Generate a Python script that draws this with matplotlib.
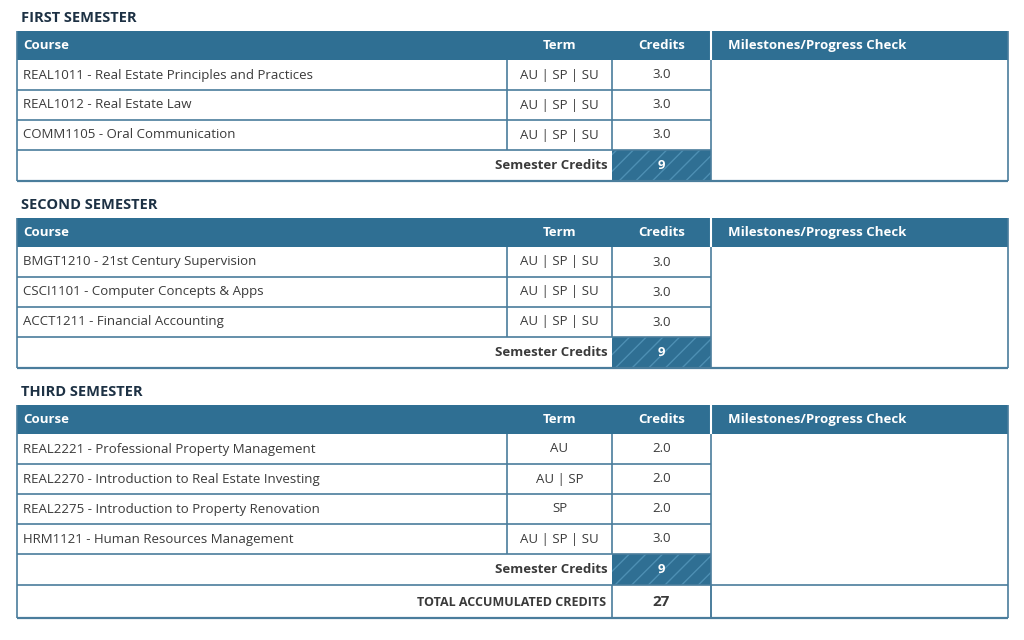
import matplotlib
matplotlib.use("Agg")
import matplotlib.pyplot as plt
from matplotlib.patches import Rectangle

plt.rcParams['font.family'] = ['Open Sans', 'DejaVu Sans']

semesters = ["FIRST SEMESTER", "SECOND SEMESTER", "THIRD SEMESTER"]
courses = [
    ["REAL1011 - Real Estate Principles and Practices", "REAL1012 - Real Estate Law", "COMM1105 - Oral Communication"],
    ["BMGT1210 - 21st Century Supervision", "CSCI1101 - Computer Concepts & Apps", "ACCT1211 - Financial Accounting"],
    ["REAL2221 - Professional Property Management", "REAL2270 - Introduction to Real Estate Investing",
     "REAL2275 - Introduction to Property Renovation", "HRM1121 - Human Resources Management"],
]
terms = [
    ["AU|SP|SU", "AU|SP|SU", "AU|SP|SU"],
    ["AU|SP|SU", "AU|SP|SU", "AU|SP|SU"],
    ["AU", "AU|SP", "SP", "AU|SP|SU"],
]
credits = [[3.0, 3.0, 3.0], [3.0, 3.0, 3.0], [2.0, 2.0, 2.0, 3.0]]
semester_credits = [9, 9, 9]
total_credits = 27
headers = ["Course", "Term", "Credits", "Milestones/Progress Check"]

HDR = "#2f6f93"
BORDER = "#4a7d9c"
TXT = "#3a3a3a"
X0, X1, X2, X3, X4 = 17, 507, 612, 711, 1008
tops = [31, 218, 405]
HH, RH, CH = 29, 30, 31

fig = plt.figure(figsize=(10.24, 6.4), dpi=100)
ax = fig.add_axes([0, 0, 1, 1])
ax.set_xlim(0, 1024)
ax.set_ylim(640, 0)
ax.axis('off')

def line(x0, y0, x1, y1, c=BORDER, lw=1.2):
    ax.plot([x0, x1], [y0, y1], color=c, lw=lw, solid_capstyle='butt')

for s, name in enumerate(semesters):
    t = tops[s]
    ax.text(21, t - 13, name, fontsize=10.5, fontweight='bold', color='#1d3144', va='center', ha='left')
    ax.add_patch(Rectangle((X0, t), X4 - X0, HH, color=HDR, lw=0))
    ax.text(23, t + HH / 2, headers[0], color='white', fontsize=9.5, fontweight='bold', va='center')
    ax.text((X1 + X2) / 2, t + HH / 2, headers[1], color='white', fontsize=9.5, fontweight='bold', va='center', ha='center')
    ax.text((X2 + X3) / 2, t + HH / 2, headers[2], color='white', fontsize=9.5, fontweight='bold', va='center', ha='center')
    ax.text(X3 + 17, t + HH / 2, headers[3], color='white', fontsize=9.5, fontweight='bold', va='center')
    line(X3, t, X3, t + HH, c='white', lw=1.5)
    y = t + HH
    for i, c in enumerate(courses[s]):
        ax.text(23, y + RH / 2, c, color=TXT, fontsize=9.5, va='center')
        ax.text((X1 + X2) / 2, y + RH / 2, terms[s][i].replace("|", " | "), color=TXT, fontsize=9.5, va='center', ha='center')
        ax.text((X2 + X3) / 2, y + RH / 2, f"{credits[s][i]:.1f}", color=TXT, fontsize=9.5, va='center', ha='center')
        line(X0, y + RH, X3, y + RH)
        y += RH
    n = len(courses[s])
    line(X1, t + HH, X1, t + HH + n * RH)
    # semester credits row
    ax.add_patch(Rectangle((X2, y), X3 - X2, CH, facecolor=HDR, edgecolor='#4d8fb3', hatch='//', lw=0))
    ax.text(X2 - 4, y + CH / 2, "Semester Credits", color=TXT, fontsize=9.5, fontweight='bold', va='center', ha='right')
    ax.text((X2 + X3) / 2, y + CH / 2, str(semester_credits[s]), color='white', fontsize=9.5, fontweight='bold', va='center', ha='center')
    yb = y + CH
    if s == 2:
        line(X0, yb, X4, yb)
        ax.text(X2 - 6, yb + 17, "TOTAL ACCUMULATED CREDITS", color=TXT, fontsize=9, fontweight='bold', va='center', ha='right')
        ax.text((X2 + X3) / 2, yb + 17, str(total_credits), color=TXT, fontsize=11, fontweight='bold', va='center', ha='center')
        line(X3, yb, X3, yb + 33)
        line(X2, yb, X2, yb + 33)
        yb += 33
    line(X0, t, X0, yb)
    line(X4, t, X4, yb)
    line(X2, t + HH, X2, y)
    line(X3, t + HH, X3, yb)
    line(X0, yb, X4, yb, lw=1.6)

fig.savefig("out.png", dpi=100)
